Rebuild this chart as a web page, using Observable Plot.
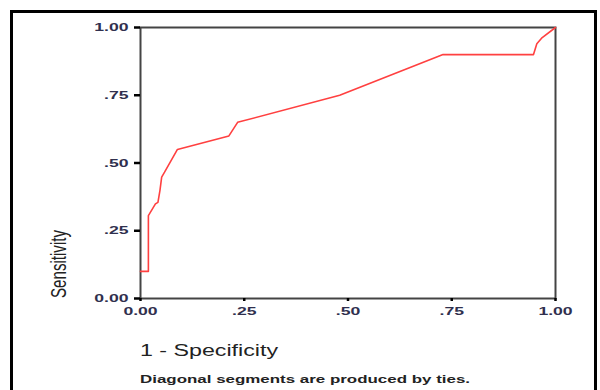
<!DOCTYPE html>
<html>
<head>
<meta charset="utf-8">
<script src="https://cdn.jsdelivr.net/npm/d3@7"></script>
<script src="https://cdn.jsdelivr.net/npm/@observablehq/plot@0.6"></script>
<style>
  html, body { margin: 0; padding: 0; background: #fff; }
  #wrap { position: relative; width: 600px; height: 390px; overflow: hidden; }
  #border { position: absolute; left: 10px; top: 10px; width: 587px; height: 420px; border: 3px solid #000; box-sizing: border-box; pointer-events: none; }
  #chart { position: absolute; left: 0; top: 0; }
</style>
</head>
<body>
<div id="wrap"><div id="chart"></div><div id="border"></div></div>
<script>
// ROC curve
const oneMinusSpecificity = [0, 0.019, 0.019, 0.036, 0.042, 0.047, 0.051, 0.058, 0.089, 0.213, 0.234, 0.480, 0.729, 0.947, 0.955, 0.968, 1.0];
const sensitivity         = [0.10, 0.10, 0.306, 0.349, 0.355, 0.40, 0.448, 0.466, 0.550, 0.600, 0.650, 0.750, 0.900, 0.900, 0.940, 0.963, 1.0];
const tickValues = [0, 0.25, 0.5, 0.75, 1];
const tickLabels = ["0.00", ".25", ".50", ".75", "1.00"];
const xTitle = "1 - Specificity";
const yTitle = "Sensitivity";
const caption = "Diagonal segments are produced by ties.";

const data = oneMinusSpecificity.map((x, i) => ({x, y: sensitivity[i]}));
const fmt = d => tickLabels[tickValues.indexOf(d)];
const FONT = "'Liberation Sans', Arial, sans-serif";

const chart = Plot.plot({
  width: 600,
  height: 390,
  marginLeft: 140,
  marginRight: 45,
  marginTop: 27,
  marginBottom: 92,
  style: {fontFamily: FONT, fontSize: "11px", background: "transparent"},
  x: {domain: [0, 1]},
  y: {domain: [0, 1]},
  marks: [
    Plot.frame({stroke: "#444", strokeWidth: 2}),
    Plot.axisX({ticks: tickValues, tickFormat: fmt, tickSize: 3, tickPadding: 6, strokeWidth: 2.5, stroke: "#000", fill: "#30304e", fontWeight: "bold", label: null}),
    Plot.axisY({ticks: tickValues, tickFormat: fmt, tickSize: 6, tickPadding: 6, strokeWidth: 2.5, stroke: "#000", fill: "#30304e", fontWeight: "bold", label: null}),
    Plot.line(data, {x: "x", y: "y", stroke: "#ff4040", strokeWidth: 1.6, curve: "linear"})
  ]
});
document.getElementById("chart").appendChild(chart);

const sx = chart.scale("x"), sy = chart.scale("y");
const svg = d3.select(chart);

// horizontally widened glyphs, as in the reference
const stretch = 1.6;
svg.selectAll("g[aria-label$='tick label'] text").each(function() {
  const w = this.getComputedTextLength();
  d3.select(this).attr("textLength", w * stretch).attr("lengthAdjust", "spacingAndGlyphs");
});

const x0 = sx.apply(0), y0 = sy.apply(0);
svg.append("text")
  .attr("x", x0).attr("y", y0 + 58)
  .attr("text-anchor", "start")
  .attr("font-family", FONT)
  .attr("font-size", 16).attr("fill", "#222")
  .attr("textLength", 138).attr("lengthAdjust", "spacingAndGlyphs")
  .text(xTitle);

svg.append("text")
  .attr("x", x0).attr("y", y0 + 85)
  .attr("text-anchor", "start")
  .attr("font-family", FONT)
  .attr("font-size", 11.5).attr("font-weight", "bold").attr("fill", "#222")
  .attr("textLength", 330).attr("lengthAdjust", "spacingAndGlyphs")
  .text(caption);

svg.append("text")
  .attr("transform", `translate(66,${y0}) scale(1.45,1) rotate(-90)`)
  .attr("text-anchor", "start")
  .attr("font-family", FONT)
  .attr("font-size", 15.5).attr("fill", "#222")
  .attr("textLength", 68).attr("lengthAdjust", "spacingAndGlyphs")
  .text(yTitle);
</script>
</body>
</html>
